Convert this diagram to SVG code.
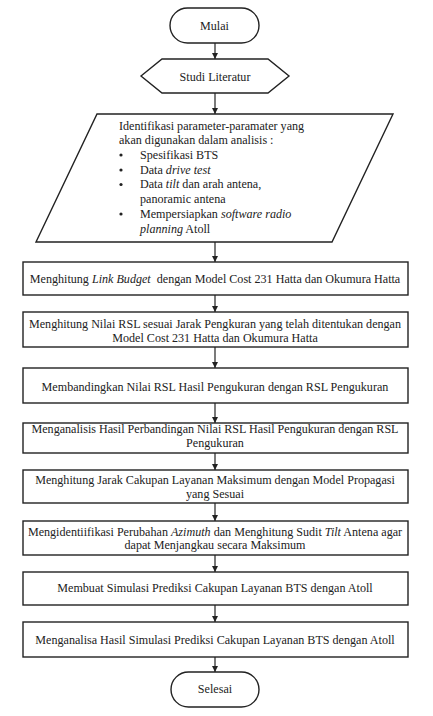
<svg xmlns="http://www.w3.org/2000/svg" width="433" height="716" viewBox="0 0 433 716">
<defs>
<marker id="ah" viewBox="0 0 10 10" refX="10" refY="5" markerWidth="6" markerHeight="6" orient="auto" markerUnits="userSpaceOnUse">
<path d="M0,0 L10,5 L0,10 z" fill="#222"/>
</marker>
<style>
.s{fill:#fff;stroke:#222;stroke-width:1.4}
.c{text-anchor:middle}
.i{font-style:italic}
.e{stroke:#222;stroke-width:1.2;fill:none;marker-end:url(#ah)}
</style>
</defs>
<rect width="433" height="716" fill="#fff"/>
<g id="connectors">
<line class="e" x1="215" y1="43" x2="215" y2="59"/>
<line class="e" x1="215" y1="93" x2="215" y2="114"/>
<line class="e" x1="215" y1="242" x2="215" y2="262"/>
<line class="e" x1="215" y1="295" x2="215" y2="312"/>
<line class="e" x1="215" y1="347" x2="215" y2="368"/>
<line class="e" x1="215" y1="403" x2="215" y2="423"/>
<line class="e" x1="215" y1="453" x2="215" y2="470"/>
<line class="e" x1="215" y1="503" x2="215" y2="521"/>
<line class="e" x1="215" y1="555" x2="215" y2="572"/>
<line class="e" x1="215" y1="605" x2="215" y2="622"/>
<line class="e" x1="215" y1="657" x2="215" y2="672"/>
</g>
<g font-family="'Liberation Serif', 'Times New Roman', serif" font-size="12.1" fill="#222">
<g id="mulai">
<rect class="s" x="170" y="8" width="89" height="35" rx="17.5"/>
<text class="c" x="214.5" y="29.5">Mulai</text>
</g>
<g id="studi">
<polygon class="s" points="141,76 162,59 268,59 289,76 268,93 162,93"/>
<text class="c" x="215" y="80.5">Studi Literatur</text>
</g>
<g id="identifikasi">
<polygon class="s" points="97,114 393,114 332,242 36,242"/>
<text x="119" y="129.5">Identifikasi parameter-paramater yang</text>
<text x="119" y="144">akan digunakan dalam analisis :</text>
<circle cx="121" cy="155" r="1.6"/>
<circle cx="121" cy="170" r="1.6"/>
<circle cx="121" cy="184.5" r="1.6"/>
<circle cx="121" cy="214" r="1.6"/>
<text x="140" y="158.5">Spesifikasi BTS</text>
<text x="140" y="173.5">Data <tspan class="i">drive test</tspan></text>
<text x="140" y="188">Data <tspan class="i">tilt</tspan> dan arah antena,</text>
<text x="140" y="202.5">panoramic antena</text>
<text x="140" y="217.5">Mempersiapkan <tspan class="i">software radio</tspan></text>
<text x="140" y="232.5"><tspan class="i">planning</tspan> Atoll</text>
</g>
<g id="linkbudget">
<rect class="s" x="23" y="262" width="385" height="33"/>
<text class="c" x="215" y="283">Menghitung <tspan class="i">Link Budget</tspan> <tspan dx="3">dengan Model Cost 231 Hatta dan Okumura Hatta</tspan></text>
</g>
<g id="nilairsl">
<rect class="s" x="23" y="312" width="385" height="35"/>
<text class="c" x="215" y="328">Menghitung Nilai RSL sesuai Jarak Pengkuran yang telah ditentukan dengan</text>
<text class="c" x="215" y="342">Model Cost 231 Hatta dan Okumura Hatta</text>
</g>
<g id="membandingkan">
<rect class="s" x="23" y="368" width="385" height="35"/>
<text class="c" x="215" y="391">Membandingkan Nilai RSL Hasil Pengukuran dengan RSL Pengukuran</text>
</g>
<g id="menganalisis">
<rect class="s" x="23" y="423" width="385" height="30"/>
<text class="c" x="215" y="433">Menganalisis Hasil Perbandingan Nilai RSL Hasil Pengukuran dengan RSL</text>
<text class="c" x="215" y="447">Pengukuran</text>
</g>
<g id="jarak">
<rect class="s" x="23" y="470" width="385" height="33"/>
<text class="c" x="215" y="484">Menghitung Jarak Cakupan Layanan Maksimum dengan Model Propagasi</text>
<text class="c" x="215" y="498">yang Sesuai</text>
</g>
<g id="azimuth">
<rect class="s" x="23" y="521" width="385" height="34"/>
<text class="c" x="215" y="536">Mengidentiifikasi Perubahan <tspan class="i">Azimuth</tspan> dan Menghitung Sudit <tspan class="i">Tilt</tspan> Antena agar</text>
<text class="c" x="215" y="549">dapat Menjangkau secara Maksimum</text>
</g>
<g id="simulasi">
<rect class="s" x="23" y="572" width="385" height="33"/>
<text class="c" x="215" y="592">Membuat Simulasi Prediksi Cakupan Layanan BTS dengan Atoll</text>
</g>
<g id="analisa">
<rect class="s" x="23" y="622" width="385" height="35"/>
<text class="c" x="215" y="644">Menganalisa Hasil Simulasi Prediksi Cakupan Layanan BTS dengan Atoll</text>
</g>
<g id="selesai">
<rect class="s" x="171" y="672" width="88" height="35" rx="17.5"/>
<text class="c" x="215" y="693">Selesai</text>
</g>
</g>
</svg>
